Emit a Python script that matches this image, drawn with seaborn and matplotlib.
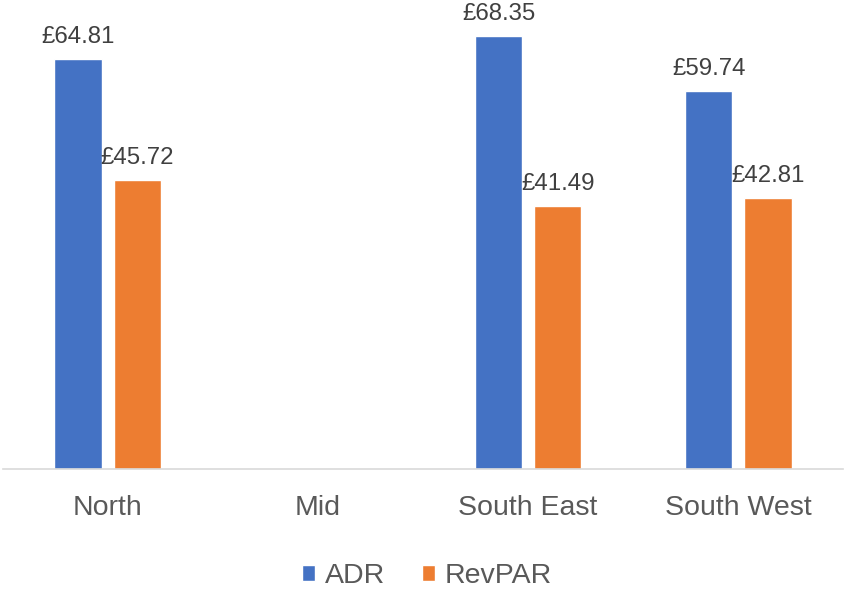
import matplotlib
matplotlib.use("Agg")
import matplotlib.pyplot as plt
import seaborn as sns
import pandas as pd
import numpy as np

regions = ["North", "Mid", "South East", "South West"]
adr = [64.81, np.nan, 68.35, 59.74]
revpar = [45.72, np.nan, 41.49, 42.81]
series = ["ADR", "RevPAR"]
colors = ["#4472C4", "#ED7D31"]

df = pd.DataFrame({
    "Region": regions * 2,
    "Value": adr + revpar,
    "Metric": [series[0]] * len(regions) + [series[1]] * len(regions),
})

sns.set_theme(style="white")
plt.rcParams["font.family"] = ["Liberation Sans", "DejaVu Sans"]

fig = plt.figure(figsize=(8.46, 5.91), dpi=100)
ax = fig.add_axes([0.003, 0.2064, 0.994, 0.7936])

sns.barplot(data=df, x="Region", y="Value", hue="Metric", order=regions,
            hue_order=series, palette=colors, width=0.562, gap=0.2,
            saturation=1, ax=ax, legend=True, errorbar=None)

ax.set_ylim(0, 74.1)
ax.set_xlim(-0.5, len(regions) - 0.5)
for c in ax.containers:
    labels = ["" if np.isnan(v) else f"£{v:.2f}" for v in c.datavalues]
    ax.bar_label(c, labels=labels, padding=8, fontsize=17.3, color="#404040")

for s in ["top", "right", "left"]:
    ax.spines[s].set_visible(False)
ax.spines["bottom"].set_color("#D9D9D9")
ax.spines["bottom"].set_linewidth(1.2)
ax.set_yticks([])
ax.set_xlabel("")
ax.set_ylabel("")
ax.tick_params(axis="x", length=0, pad=19, labelsize=20.5, labelcolor="#595959")

ax.get_legend().remove()
handles, labs = ax.get_legend_handles_labels()
fig.legend(handles, labs, loc="lower center", bbox_to_anchor=(0.505, 0.003), ncol=2,
           frameon=False, fontsize=20.5, handlelength=0.45, handleheight=0.45,
           handletextpad=0.35, columnspacing=1.3, labelcolor="#595959",
           borderpad=0, borderaxespad=0)

fig.savefig("out.png", dpi=100)
